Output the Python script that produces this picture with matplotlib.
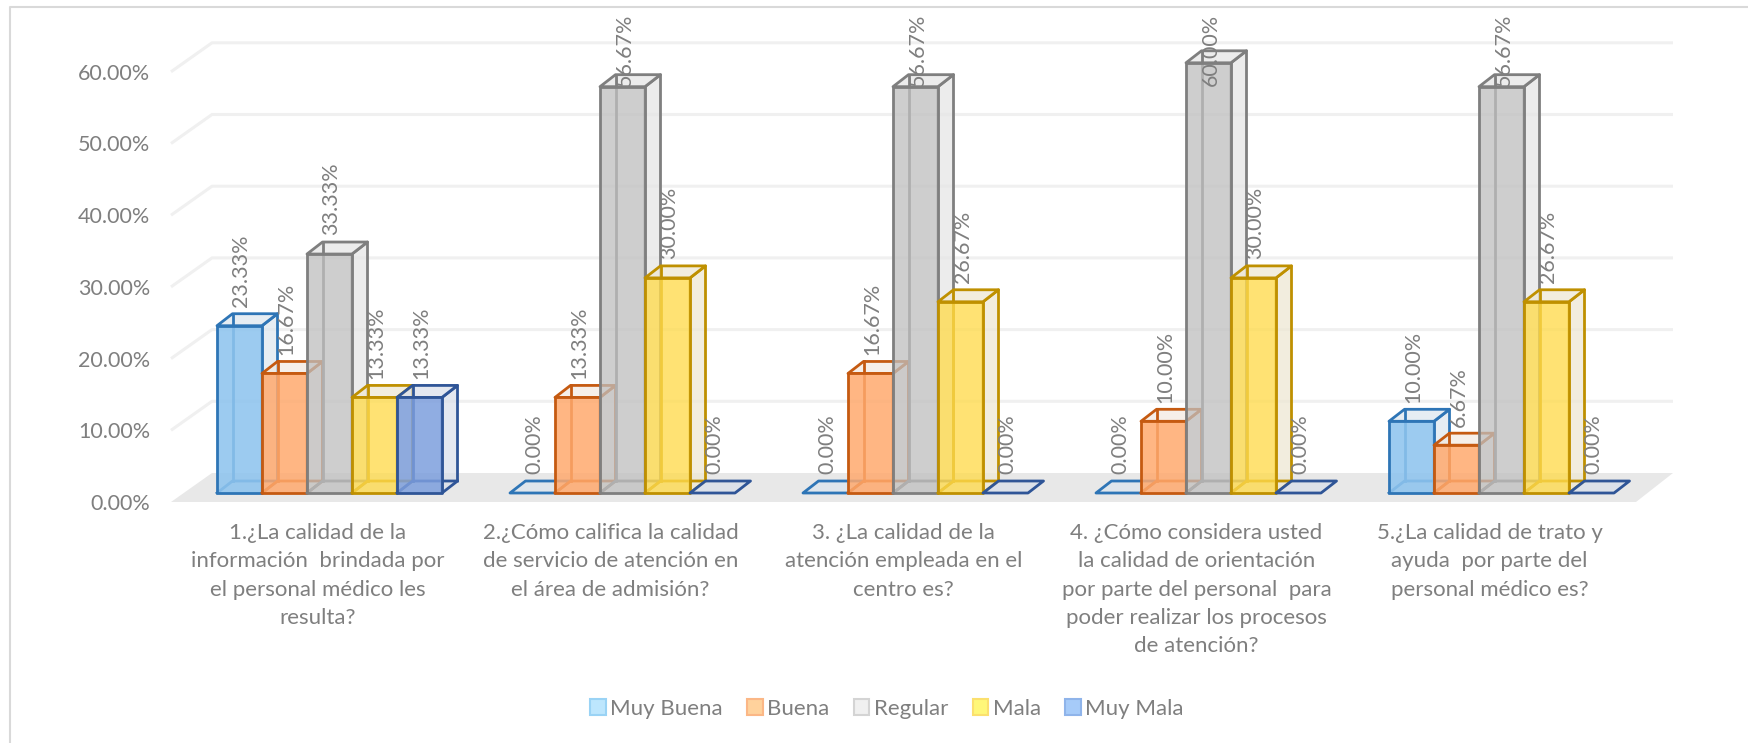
import matplotlib
matplotlib.use('Agg')
import matplotlib.pyplot as plt
from matplotlib.patches import Polygon, Patch, Rectangle

categories = ['1.¿La calidad de la\ninformación  brindada por\nel personal médico les\nresulta?',
              '2.¿Cómo califica la calidad\nde servicio de atención en\nel área de admisión?',
              '3. ¿La calidad de la\natención empleada en el\ncentro es?',
              '4. ¿Cómo considera usted\nla calidad de orientación\npor parte del personal  para\npoder realizar los procesos\nde atención?',
              '5.¿La calidad de trato y\nayuda  por parte del\npersonal médico es?']
series_names = ['Muy Buena', 'Buena', 'Regular', 'Mala', 'Muy Mala']
muy_buena = [23.33, 0.00, 0.00, 0.00, 10.00]
buena = [16.67, 13.33, 16.67, 10.00, 6.67]
regular = [33.33, 56.67, 56.67, 60.00, 56.67]
mala = [13.33, 30.00, 26.67, 30.00, 26.67]
muy_mala = [13.33, 0.00, 0.00, 0.00, 0.00]
all_series = [muy_buena, buena, regular, mala, muy_mala]
y_ticks = [0, 10, 20, 30, 40, 50, 60]
y_labels = ['0.00%', '10.00%', '20.00%', '30.00%', '40.00%', '50.00%', '60.00%']

edge_colors = ['#2E75B6', '#C55A11', '#7F7F7F', '#BF9000', '#2F5597']
front_colors = ['#8EC4EEE0', '#FFA96DD8', '#BFBFBFC0', '#FFDB4DC8', '#7C9EDDD8']
side_colors = ['#DCE6EFB0', '#F3E9E0B0', '#E6E6E6C0', '#EEE8D4C0', '#D8DEEAB0']
legend_faces = ['#BDE6FD', '#FFD29C', '#F0F0F0', '#FFF779', '#A6CBF9']
legend_edges = ['#9AD3F5', '#FBB786', '#D4D4D4', '#FBE06E', '#8FB4EA']
text_color = '#7F7F7F'

W, H = 1749, 743
px_x = 293.0   # pixels per category
px_y = 7.17    # pixels per percent
x0_px, y0_px = 329.5, 502.0

plt.rcParams['font.family'] = ['Lato', 'DejaVu Sans']
fig = plt.figure(figsize=(W / 100, H / 100), dpi=100)
ax = fig.add_axes([0, 0, 1, 1])
ax.set_xlim(-x0_px / px_x, (W - x0_px) / px_x)
ax.set_ylim((y0_px - H) / px_y, y0_px / px_y)

ax.set_xticks([])
ax.set_yticks(y_ticks)
ax.set_yticklabels(y_labels)
ax.tick_params(axis='y', length=0, pad=15, labelsize=15.5, labelcolor=text_color)
for name in ['top', 'right', 'bottom', 'left']:
    ax.spines[name].set_visible(False)
left_x = (171 - x0_px) / px_x
right_x = (1636 - x0_px) / px_x
ax.spines['left'].set_position(('data', left_x))

# chart frame
ax.plot([10 / W, 10 / W, 1], [0, 1 - 7 / H, 1 - 7 / H], transform=ax.transAxes,
        color='#D9D9D9', lw=1.5, zorder=1)

# floor and walls
wall_dx = 37 / px_x
wall_dy = 29 / px_y
ax.add_patch(Polygon([(left_x, 0), (right_x, 0), (right_x + wall_dx, wall_dy), (left_x + 41 / px_x, wall_dy)],
                     facecolor='#E8E8E8', edgecolor='none', zorder=1))
for t in y_ticks[1:]:
    ax.plot([left_x, left_x + 41 / px_x, right_x + wall_dx], [t, t + wall_dy, t + wall_dy],
            color='#F0F0F0', lw=2.2, zorder=1, solid_capstyle='butt')

bar_w = 45 / px_x
depth_x = 15.5 / px_x
depth_y = 12 / px_y
base = 9 / px_y

# bars left to right, each painted over the one before
z = 3
for c in range(len(categories)):
    for s, values in enumerate(all_series):
        v = values[c]
        bx = c + (s - 2.5) * bar_w
        l, r = bx, bx + bar_w
        b, t = base, base + v
        ec = edge_colors[s]
        if v > 0:
            ax.add_patch(Polygon([(r, b), (r + depth_x, b + depth_y), (r + depth_x, t + depth_y), (r, t)],
                                 facecolor=side_colors[s], edgecolor=ec, lw=2, zorder=z, joinstyle='round'))
        ax.add_patch(Polygon([(l, t), (r, t), (r + depth_x, t + depth_y), (l + depth_x, t + depth_y)],
                             facecolor=side_colors[s], edgecolor=ec, lw=2, zorder=z, joinstyle='round'))
        if v > 0:
            ax.plot([l + depth_x, l + depth_x], [b + depth_y, t + depth_y], color=ec, lw=2, zorder=z)
            ax.plot([l, l + depth_x, r + depth_x], [b, b + depth_y, b + depth_y], color=ec, lw=2, zorder=z)
            ax.add_patch(Rectangle((l, b), bar_w, v, facecolor=front_colors[s], edgecolor=ec, lw=2,
                                   zorder=z + 0.5, joinstyle='round'))
        z += 1

# data labels go over the bars, tall ones get pushed down to stay in the chart
for s, values in enumerate(all_series):
    for c, v in enumerate(values):
        bx = c + (s - 2.5) * bar_w
        ly = min(v + base + 2.6, 58.0)
        ax.text(bx + bar_w / 2 + 2 / px_x, ly, '%.2f%%' % v, rotation=90,
                ha='center', va='bottom', fontsize=15.5, color=text_color, zorder=z + 1)

# category labels sit a bit left of their groups
for c, label in enumerate(categories):
    ax.text(c - 12 / px_x, 1 - 523 / H, label, transform=ax.get_xaxis_transform(),
            ha='center', va='top', fontsize=16, color=text_color, linespacing=1.52, zorder=2)

handles = [Patch(facecolor=legend_faces[i], edgecolor=legend_edges[i], lw=1.5) for i in range(5)]
leg = ax.legend(handles, series_names, loc='center', bbox_to_anchor=(887 / W, 1 - 709 / H), ncol=5,
                frameon=False, fontsize=16, labelcolor=text_color, handlelength=0.7, handleheight=0.7,
                handletextpad=0.2, columnspacing=1.1)

fig.savefig('out.png', dpi=100, facecolor='white')
